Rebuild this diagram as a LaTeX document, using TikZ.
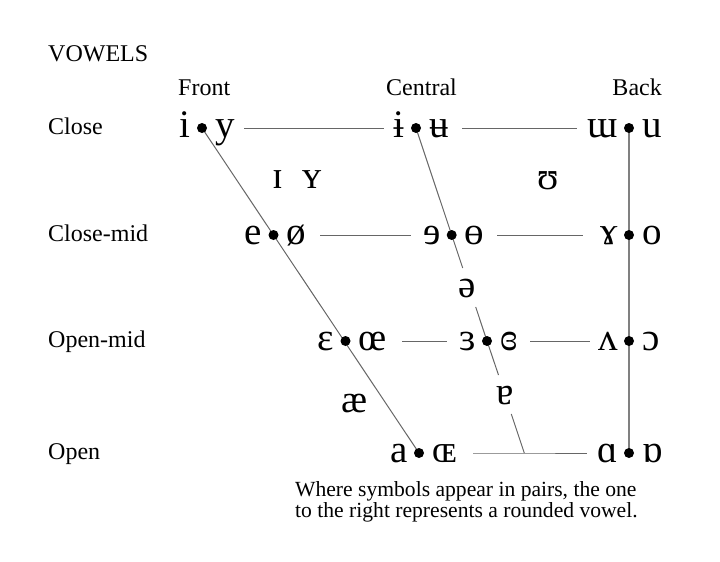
\documentclass[tikz,border=0pt]{standalone}
\usepackage{fontspec}
\setmainfont{Liberation Serif}
\begin{document}
\begin{tikzpicture}[x=1pt,y=-1pt,
  lbl/.style={inner sep=0pt,font=\fontsize{24}{28}\selectfont},
  note/.style={inner sep=0pt,anchor=base west,font=\fontsize{21.6}{21}\selectfont},
  ipa/.style={inner sep=0pt,font=\fontsize{39}{42}\selectfont},
  vdot/.style={circle,fill=black,inner sep=0pt,minimum size=10pt},
  grid/.style={draw=black!60,line width=1pt},
  backline/.style={draw=black!50,line width=1.3pt}]
\useasboundingbox (0,0) rectangle (720,562);
% headings
\node[lbl,anchor=base west] (hv) at (48,61) {VOWELS};
\node[lbl,anchor=base west] (hf) at (178,95) {Front};
\node[lbl,anchor=base west] (hc) at (386,95) {Central};
\node[lbl,anchor=base east] (hb) at (662,95) {Back};
\node[lbl,anchor=base west] (rc) at (48,134) {Close};
\node[lbl,anchor=base west] (rcm) at (48,241) {Close-mid};
\node[lbl,anchor=base west] (rom) at (48,347) {Open-mid};
\node[lbl,anchor=base west] (ro) at (48,459) {Open};
% dot coordinates
\coordinate (fC) at (202,128);
\coordinate (cC) at (416,128);
\coordinate (bC) at (629,128);
\coordinate (fCM) at (273.5,235);
\coordinate (cCM) at (451.7,235);
\coordinate (bCM) at (629,235);
\coordinate (fOM) at (345.5,341);
\coordinate (cOM) at (487,341);
\coordinate (bOM) at (629,341);
\coordinate (fO) at (419,453);
\coordinate (cO) at (524.3,453);
\coordinate (bO) at (629,453);
% gap ends on central line
\coordinate (g1) at (462.7,268);
\coordinate (g2) at (475.7,307);
\coordinate (g3) at (498.5,375);
\coordinate (g4) at (511.3,414);
% horizontal segment ends
\coordinate (h1a) at (244,128); \coordinate (h1b) at (384,128);
\coordinate (h2a) at (462,128); \coordinate (h2b) at (577,128);
\coordinate (h3a) at (320,235); \coordinate (h3b) at (411,235);
\coordinate (h4a) at (497,235); \coordinate (h4b) at (583,235);
\coordinate (h5a) at (402,341); \coordinate (h5b) at (447,341);
\coordinate (h6a) at (530,341); \coordinate (h6b) at (590,341);
\coordinate (h7a) at (473,453); \coordinate (h7b) at (587,453);
% lines
\draw[grid] (fC) -- (fO);
\draw[grid] (cC) -- (cCM) -- (g1);
\draw[grid] (g2) -- (cOM) -- (g3);
\draw[grid] (g4) -- (cO);
\draw[backline] (bC) -- (bO);
\draw[grid] (h1a) -- (h1b);
\draw[grid] (h2a) -- (h2b);
\draw[grid] (h3a) -- (h3b);
\draw[grid] (h4a) -- (h4b);
\draw[grid] (h5a) -- (h5b);
\draw[grid] (h6a) -- (h6b);
\draw[grid] (h7a) -- (cO) -- (h7b);
% dots
\foreach \p in {fC,cC,bC,fCM,cCM,bCM,fOM,cOM,bOM,fO,bO}
  \node[vdot] (d\p) at (\p) {};
% vowel pairs
\newcommand\vpair[4]{%
  \node[ipa,anchor=base east] (#1L) at ([xshift=-11pt,yshift=-9pt]#2) {#3};
  \node[ipa,anchor=base west] (#1R) at ([xshift=13pt,yshift=-9pt]#2) {#4};}
\vpair{a1}{fC}{i}{y}
\vpair{a2}{cC}{ɨ}{ʉ}
\vpair{a3}{bC}{ɯ}{u}
\vpair{a4}{fCM}{e}{ø}
\vpair{a5}{cCM}{ɘ}{ɵ}
\vpair{a6}{bCM}{ɤ}{o}
\vpair{a7}{fOM}{ɛ}{œ}
\vpair{a8}{cOM}{ɜ}{ɞ}
\vpair{a9}{bOM}{ʌ}{ɔ}
\vpair{a10}{fO}{a}{ɶ}
\vpair{a11}{bO}{ɑ}{ɒ}
% single vowels
\node[ipa,anchor=base] (sI) at (278,188) {ɪ};
\node[ipa,anchor=base] (sY) at (312,188) {ʏ};
\node[ipa,anchor=base] (sU) at (548,189) {ʊ};
\node[ipa,anchor=base] (sE) at (467,297) {ə};
\node[ipa,anchor=base] (sAE) at (355,412) {æ};
\node[ipa,anchor=base] (sA) at (505,404) {ɐ};
% note
\node[note] (n1) at (295,496) {Where symbols appear in pairs, the one};
\node[note] (n2) at (295,517) {to the right represents a rounded vowel.};
\end{tikzpicture}
\end{document}
